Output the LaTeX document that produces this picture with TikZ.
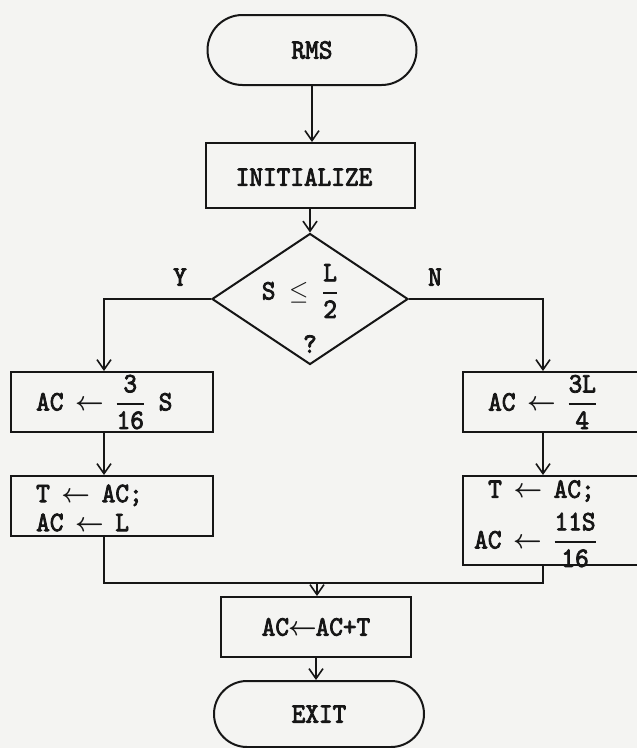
\documentclass[tikz,border=0pt]{standalone}
\usepackage{fontspec}
\usepackage{amsmath}
\usepackage{graphicx}
\newfontfamily\tw{lmmono10-regular.otf}[AutoFakeBold=3]
\usetikzlibrary{shapes.geometric,shapes.misc,arrows.meta}
\definecolor{bg}{RGB}{244,244,242}
\definecolor{ink}{RGB}{22,22,22}
\newcommand{\fr}[2]{\ensuremath{\genfrac{}{}{1.5pt}{0}{\text{#1}}{\text{#2}}}}
\newcommand{\sy}[1]{\scalebox{1}[1.08]{#1}}
\newcommand{\la}{\kern-2pt\ensuremath{\boldsymbol{\leftarrow}}\kern-2pt}
\begin{document}
\begin{tikzpicture}[x=1pt,y=-1pt,
  txt/.style={font=\tw\bfseries\fontsize{26}{30}\selectfont, text=ink, inner sep=0pt},
  term/.style={draw=ink, line width=2pt, rounded rectangle, inner sep=0pt},
  proc/.style={draw=ink, line width=2pt, rectangle, inner sep=0pt},
  dec/.style={draw=ink, line width=2pt, diamond, inner sep=0pt},
  flow/.style={draw=ink, line width=1.9pt, -{Straight Barb[length=10pt,width=14pt,line width=1.6pt]}},
  conn/.style={draw=ink, line width=1.9pt},
]
\useasboundingbox (0,0) rectangle (637,748);
\fill[bg] (0,0) rectangle (637,748);
\clip (0,0) rectangle (637,748);

% shapes
\node[term, minimum width=209pt, minimum height=70pt] (rms) at (312,50) {};
\node[proc, minimum width=209pt, minimum height=65pt] (init) at (310,175.5) {};
\node[dec, minimum width=196pt, minimum height=131pt] (dec) at (310,299) {};
\node[proc, minimum width=202pt, minimum height=60pt] (lb1) at (112,402) {};
\node[proc, minimum width=202pt, minimum height=60pt] (lb2) at (112,506) {};
\node[proc, minimum width=200pt, minimum height=60pt] (rb1) at (563,402) {};
\node[proc, minimum width=200pt, minimum height=89pt] (rb2) at (563,520.5) {};
\node[proc, minimum width=190pt, minimum height=60pt] (add) at (316,627) {};
\node[term, minimum width=210pt, minimum height=66pt] (exit) at (319,714) {};

% texts
\node[txt] (trms) at (rms.center) {\sy{RMS}};
\node[txt] (tinit) at (304,177) {\sy{INITIALIZE}};
\node[txt] (tcond) at (300,291) {\sy{S $\leq$ \fr{L}{2}}};
\node[txt] (tq) at (310,344) {\sy{?}};
\node[txt] (ty) at (180,277) {\sy{Y}};
\node[txt] (tn) at (435,277) {\sy{N}};
\node[txt, anchor=west] (tl1) at (36,402) {\sy{AC \la{} \fr{3}{16} S}};
\node[txt, anchor=west, align=left] (tl2) at (36,508) {\sy{T \la{} AC;}\\[-1pt]\sy{AC \la{} L}};
\node[txt, anchor=west] (tr1) at (488,402) {\sy{AC \la{} \fr{3L}{4}}};
\node[txt, anchor=west] (tr2a) at (488,491) {\sy{T \la{} AC;}};
\node[txt, anchor=west] (tr2b) at (474,540) {\sy{AC \la{} \fr{11S}{16}}};
\node[txt] (tadd) at (add.center) {\sy{AC\kern1pt\la\kern1pt AC+T}};
\node[txt] (texit) at (exit.center) {\sy{EXIT}};

% helper coordinates
\coordinate (lx) at (104,0);
\coordinate (rx) at (543,0);
\coordinate (mrg) at (317,583);

% connectors
\draw[flow] (rms.south) -- (rms.south |- init.north);
\draw[flow] (init.south -| dec.north) -- (dec.north);
\draw[flow] (dec.west) -| (lx |- lb1.north);
\draw[flow] (dec.east) -| (rx |- rb1.north);
\draw[flow] (lx |- lb1.south) -- (lx |- lb2.north);
\draw[flow] (rx |- rb1.south) -- (rx |- rb2.north);
\draw[conn] (lx |- lb2.south) -- (lx |- mrg) -- (rx |- mrg) -- (rx |- rb2.south);
\draw[flow] (mrg) -- (mrg |- add.north);
\draw[flow] (add.south) -- (add.south |- exit.north);
\end{tikzpicture}
\end{document}
